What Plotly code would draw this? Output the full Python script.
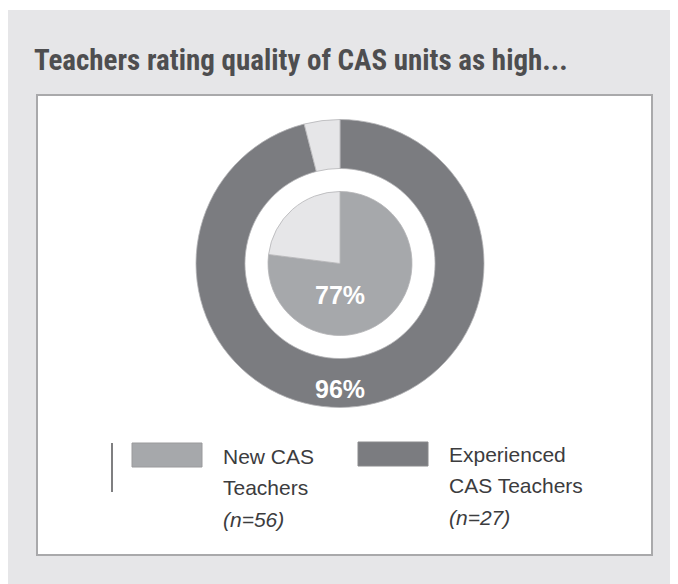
"""Donut-in-donut chart: share of teachers rating CAS units' quality as high."""

import plotly.graph_objects as go

# the page body keeps its default 8px margin, so the figure sits at (8, 8)
OFF = 8
W, H = 678 - OFF, 584 - OFF

# Data
GROUPS = ["New CAS Teachers", "Experienced CAS Teachers"]
GROUP_N = [56, 27]
PCT_HIGH = [77, 96]

TITLE = "Teachers rating quality of CAS units as high..."
LEGEND_LINES = [
    ["New CAS", "Teachers", "<i>(n=56)</i>"],
    ["Experienced", "CAS Teachers", "<i>(n=27)</i>"],
]

BG = "#e6e6e8"
NEW_GREY = "#a6a8ab"
EXP_GREY = "#7b7c80"
REST = "#e6e6e8"
SLICE_EDGE = "#b4b4b6"
TEXT = "#3c3c3e"
TITLE_COLOR = "#4e4e50"

BODY_FONT = "Liberation Sans, Arial, sans-serif"
TITLE_FONT = "Liberation Sans Narrow, Roboto Condensed, DejaVu Sans Condensed, sans-serif"


def px(x, y):
    """Page pixel position (from top-left) to paper coordinates."""
    return (x - OFF) / W, 1 - (y - OFF) / H


def box(x0, y0, x1, y1):
    a, b = px(x0, y1)
    c, d = px(x1, y0)
    return dict(x0=a, y0=b, x1=c, y1=d)


def domain(cx, cy, r):
    x0, y0 = px(cx - r, cy + r)
    x1, y1 = px(cx + r, cy - r)
    return dict(x=[x0, x1], y=[y0, y1])


CX, CY = 340, 263.5
R_OUT, R_IN = 144, 72

fig = go.Figure()

# outer ring: experienced teachers
fig.add_trace(go.Pie(
    values=[PCT_HIGH[1], 100 - PCT_HIGH[1]],
    labels=["high", "other"],
    hole=0.66,
    sort=False,
    direction="clockwise",
    rotation=0,
    marker=dict(colors=[EXP_GREY, REST], line=dict(color=SLICE_EDGE, width=0.8)),
    textinfo="none",
    hoverinfo="skip",
    showlegend=False,
    domain=domain(CX, CY, R_OUT),
))

# inner pie: new teachers
fig.add_trace(go.Pie(
    values=[PCT_HIGH[0], 100 - PCT_HIGH[0]],
    labels=["high", "other"],
    sort=False,
    direction="clockwise",
    rotation=0,
    marker=dict(colors=[NEW_GREY, REST], line=dict(color=SLICE_EDGE, width=0.8)),
    textinfo="none",
    hoverinfo="skip",
    showlegend=False,
    domain=domain(CX, CY, R_IN),
))

shapes = [
    # grey card behind everything
    dict(type="rect", xref="paper", yref="paper", layer="below",
         fillcolor=BG, line=dict(width=0), **box(6, 10, 680, 586)),
    # white panel
    dict(type="rect", xref="paper", yref="paper", layer="below",
         fillcolor="white", line=dict(color="#a9a9ab", width=2), **box(37, 95, 652, 555)),
    # legend rule
    dict(type="line", xref="paper", yref="paper",
         line=dict(color="#555557", width=1.5), **box(112, 443, 112, 492)),
    # legend swatches
    dict(type="rect", xref="paper", yref="paper",
         fillcolor=NEW_GREY, line=dict(color="#9a9a9c", width=1), **box(132, 443, 202, 467)),
    dict(type="rect", xref="paper", yref="paper",
         fillcolor=EXP_GREY, line=dict(color="#8a8a8c", width=1), **box(358, 442, 428, 466)),
]


def note(text, x, y, size, color, family, anchor="left"):
    ax, ay = px(x, y)
    return dict(text=text, x=ax, y=ay, xref="paper", yref="paper", showarrow=False,
                xanchor=anchor, yanchor="middle",
                font=dict(family=family, size=size, color=color))


annotations = [
    note(f"<b>{TITLE}</b>", 32, 60, 29, TITLE_COLOR, TITLE_FONT),
    note(f"<b>{PCT_HIGH[0]}%</b>", 340, 295, 25, "white", BODY_FONT, "center"),
    note(f"<b>{PCT_HIGH[1]}%</b>", 340, 389, 25, "white", BODY_FONT, "center"),
]
for left, top, lines in ((221, 456, LEGEND_LINES[0]), (447, 454, LEGEND_LINES[1])):
    for i, line in enumerate(lines):
        annotations.append(note(line, left, top + 31.5 * i, 21, TEXT, BODY_FONT))

fig.update_layout(
    width=W,
    height=H,
    margin=dict(l=0, r=0, t=0, b=0),
    paper_bgcolor="white",
    plot_bgcolor="white",
    shapes=shapes,
    annotations=annotations,
)

fig.write_html("out.html")
